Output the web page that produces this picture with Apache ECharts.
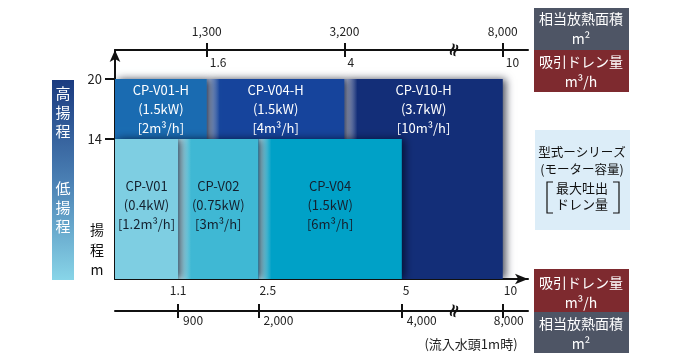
<!DOCTYPE html>
<html><head><meta charset="utf-8">
<script src="https://cdn.jsdelivr.net/npm/echarts@6/dist/echarts.min.js"></script>
<style>html,body{margin:0;padding:0;background:#fff}#c{width:680px;height:360px}</style>
</head><body><div id="c"></div>
<script>
// ---- data ----
const lowModels = ['CP-V01', 'CP-V02', 'CP-V04'];
const lowPower = ['(0.4kW)', '(0.75kW)', '(1.5kW)'];
const lowFlow = ['[1.2m³/h]', '[3m³/h]', '[6m³/h]'];
const lowStart = [0, 1.1, 2.5];
const lowEnd = [1.1, 2.5, 5];
const lowHead = [14, 14, 14];

const highModels = ['CP-V01-H', 'CP-V04-H', 'CP-V10-H'];
const highPower = ['(1.5kW)', '(1.5kW)', '(3.7kW)'];
const highFlow = ['[2m³/h]', '[4m³/h]', '[10m³/h]'];
const highStart = [0, 1.6, 4];
const highEnd = [1.6, 4, 10];
const highHead = [20, 20, 20];

const bottomTicks = [1.1, 2.5, 5, 10];
const bottomFlowLabels = ['1.1', '2.5', '5', '10'];
const bottomAreaLabels = ['900', '2,000', '4,000', '8,000'];
const topTicks = [1.6, 4, 10];
const topFlowLabels = ['1.6', '4', '10'];
const topAreaLabels = ['1,300', '3,200', '8,000'];
const yTicks = [14, 20];

// ---- styling ----
const lowColors = ['#7ecee2', '#3fb8d4', '#00a1c7'];
const highColors = ['#1a6bb1', '#16449c', '#132e78'];
const FONT = '"Noto Sans CJK JP", "Noto Sans", sans-serif';
const BREAK_AT = 5, BREAK_RATIO = 0.352, X_MAX = 7.2, Y_MAX = 22.9;
const tx = v => v <= BREAK_AT ? v : BREAK_AT + (v - BREAK_AT) * BREAK_RATIO;
const lookup = (ticks, labels) => (val) => {
  for (let i = 0; i < ticks.length; i++) if (Math.abs(tx(ticks[i]) - val) < 1e-6) return labels[i];
  return '';
};

const rects = [];
for (let i = highModels.length - 1; i >= 0; i--) rects.push([tx(highStart[i]), tx(highEnd[i]), highHead[i], i, 1]);
for (let i = lowModels.length - 1; i >= 0; i--) rects.push([tx(lowStart[i]), tx(lowEnd[i]), lowHead[i], i, 0]);

const axisBase = {type: 'value', min: 0, max: X_MAX, splitLine: {show: false}};
const lineStyle = {color: '#111', width: 2};
const lbl = {fontSize: 12, color: '#222', fontFamily: FONT};
const firstBottom = bottomTicks.slice(0, 1).map(tx);
const restBottom = bottomTicks.slice(1).map(tx);
const areaMain = bottomTicks.slice(0, bottomTicks.length - 1).map(tx);
const areaLast = bottomTicks.slice(-1).map(tx);

const chart = echarts.init(document.getElementById('c'));
chart.setOption({
  animation: false,
  grid: {left: 115, top: 50, right: 152, bottom: 81},
  xAxis: [
    Object.assign({}, axisBase, {
      position: 'bottom',
      axisLine: {show: true, onZero: false, symbol: ['none', 'arrow'], symbolSize: [8, 13], lineStyle},
      axisTick: {show: false},
      axisLabel: Object.assign({customValues: restBottom, formatter: lookup(bottomTicks, bottomFlowLabels), margin: 5, align: 'left', padding: [0, 0, 0, 1]}, lbl)
    }),
    Object.assign({}, axisBase, {
      position: 'bottom',
      axisLine: {show: false, onZero: false},
      axisTick: {show: false},
      axisLabel: Object.assign({customValues: firstBottom, formatter: lookup(bottomTicks, bottomFlowLabels), margin: 5}, lbl)
    }),
    Object.assign({}, axisBase, {
      position: 'top',
      axisLine: {show: true, onZero: false, lineStyle},
      axisTick: {show: true, customValues: topTicks.map(tx), length: 7, lineStyle},
      axisLabel: Object.assign({customValues: topTicks.map(tx), formatter: lookup(topTicks, topAreaLabels), margin: 13}, lbl)
    }),
    Object.assign({}, axisBase, {
      position: 'top',
      axisLine: {show: false, onZero: false},
      axisTick: {show: true, inside: true, customValues: topTicks.map(tx), length: 7, lineStyle},
      axisLabel: Object.assign({inside: true, customValues: topTicks.map(tx), formatter: lookup(topTicks, topFlowLabels), margin: 6, align: 'left', padding: [0, 0, 0, 3]}, lbl)
    }),
    Object.assign({}, axisBase, {
      position: 'bottom', offset: 32,
      axisLine: {show: true, onZero: false, lineStyle},
      axisTick: {show: true, customValues: bottomTicks.map(tx), length: 7, lineStyle},
      axisLabel: Object.assign({customValues: areaMain, formatter: lookup(bottomTicks, bottomAreaLabels), margin: 3, align: 'left', padding: [0, 0, 0, 5]}, lbl)
    }),
    Object.assign({}, axisBase, {
      position: 'bottom', offset: 32,
      axisLine: {show: false, onZero: false},
      axisTick: {show: true, inside: true, customValues: bottomTicks.map(tx), length: 7, lineStyle},
      axisLabel: Object.assign({customValues: areaLast, formatter: lookup(bottomTicks, bottomAreaLabels), margin: 3, align: 'center', padding: [0, 0, 0, 12]}, lbl)
    })
  ],
  yAxis: {
    type: 'value', min: 0, max: Y_MAX, splitLine: {show: false},
    axisLine: {show: true, onZero: false, symbol: ['none', 'arrow'], symbolSize: [8, 12], lineStyle},
    axisTick: {show: true, customValues: yTicks, length: 10, lineStyle},
    axisLabel: {customValues: yTicks, margin: 13, fontSize: 13, color: '#222', fontFamily: FONT}
  },
  series: [{
    type: 'custom',
    xAxisIndex: 0,
    clip: true,
    data: rects,
    renderItem: function (params, api) {
      const x0 = api.value(0), x1 = api.value(1), h = api.value(2), i = api.value(3), g = api.value(4);
      const p0 = api.coord([x0, 0]);
      const p1 = api.coord([x1, h]);
      const isHigh = g === 1;
      const base = isHigh ? highColors[i] : lowColors[i];
      const w = p1[0] - p0[0];
      let fill = base;
      if (x0 > 0) {
        const edge = echarts.color.lift(base, 0.6);
        fill = new echarts.graphic.LinearGradient(0, 0, 1, 0, [
          {offset: 0, color: edge},
          {offset: Math.min(3 / w, 1), color: edge},
          {offset: Math.min(13 / w, 1), color: base},
          {offset: 1, color: base}
        ]);
      }
      const cy = isHigh ? api.coord([0, (lowHead[0] + h) / 2])[1] : api.coord([0, h / 2])[1] - 4;
      const lines = isHigh ? [highModels[i], highPower[i], highFlow[i]] : [lowModels[i], lowPower[i], lowFlow[i]];
      return {
        type: 'group',
        children: [
          {type: 'rect', shape: {x: p0[0], y: p1[1], width: w, height: p0[1] - p1[1]},
           style: {fill: fill, shadowBlur: 8, shadowColor: 'rgba(0,5,25,0.7)', shadowOffsetX: 3}},
          {type: 'text', x: (p0[0] + p1[0]) / 2, y: cy,
           style: {text: lines.join('\n'), fill: isHigh ? '#ffffff' : '#14202e', font: '13px ' + FONT,
                   align: 'center', verticalAlign: 'middle', lineHeight: 19}}
        ]
      };
    }
  }],
  graphic: [
    // left gradient bar
    {type: 'rect', shape: {x: 52, y: 80, width: 22, height: 200},
     style: {fill: new echarts.graphic.LinearGradient(0, 0, 0, 1, [
       {offset: 0, color: '#1b3b80'}, {offset: 0.5, color: '#4a7fb3'}, {offset: 1, color: '#88d5e8'}])}},
    {type: 'text', x: 63, y: 112, style: {text: '高\n揚\n程', fill: '#fff', font: '15px ' + FONT, align: 'center', verticalAlign: 'middle', lineHeight: 19}},
    {type: 'text', x: 63, y: 207, style: {text: '低\n揚\n程', fill: '#fff', font: '15px ' + FONT, align: 'center', verticalAlign: 'middle', lineHeight: 19}},
    {type: 'text', x: 97, y: 250, style: {text: '揚\n程\nm', fill: '#111', font: '14px ' + FONT, align: 'center', verticalAlign: 'middle', lineHeight: 20}},
    // right top boxes
    {type: 'rect', shape: {x: 534, y: 8, width: 95, height: 42}, style: {fill: '#4e5565'}},
    {type: 'text', x: 581, y: 29, style: {text: '相当放熱面積\nm²', fill: '#fff', font: '14px ' + FONT, align: 'center', verticalAlign: 'middle', lineHeight: 20}},
    {type: 'rect', shape: {x: 534, y: 50, width: 95, height: 42}, style: {fill: '#7e2a2f'}},
    {type: 'text', x: 581, y: 72, style: {text: '吸引ドレン量\nm³/h', fill: '#fff', font: '14px ' + FONT, align: 'center', verticalAlign: 'middle', lineHeight: 20}},
    // right bottom boxes
    {type: 'rect', shape: {x: 534, y: 269, width: 95, height: 43}, style: {fill: '#7e2a2f'}},
    {type: 'text', x: 581, y: 293, style: {text: '吸引ドレン量\nm³/h', fill: '#fff', font: '14px ' + FONT, align: 'center', verticalAlign: 'middle', lineHeight: 20}},
    {type: 'rect', shape: {x: 534, y: 312, width: 95, height: 41}, style: {fill: '#4e5565'}},
    {type: 'text', x: 581, y: 334, style: {text: '相当放熱面積\nm²', fill: '#fff', font: '14px ' + FONT, align: 'center', verticalAlign: 'middle', lineHeight: 20}},
    // legend box
    {type: 'rect', shape: {x: 535, y: 130, width: 95, height: 100}, style: {fill: '#dcedf8'}},
    {type: 'text', x: 582, y: 161, style: {text: '型式ーシリーズ\n(モーター容量)', fill: '#111', font: '12.5px ' + FONT, align: 'center', verticalAlign: 'middle', lineHeight: 17}},
    {type: 'text', x: 582, y: 196, style: {text: '最大吐出\nドレン量', fill: '#111', font: '13px ' + FONT, align: 'center', verticalAlign: 'middle', lineHeight: 16}},
    {type: 'polyline', shape: {points: [[553, 182], [547, 182], [547, 213], [553, 213]]}, style: {stroke: '#111', lineWidth: 1.2, fill: null}},
    {type: 'polyline', shape: {points: [[613, 182], [619, 182], [619, 213], [613, 213]]}, style: {stroke: '#111', lineWidth: 1.2, fill: null}},
    // caption
    {type: 'text', x: 471, y: 344, style: {text: '(流入水頭1m時)', fill: '#222', font: '13px ' + FONT, align: 'center', verticalAlign: 'middle'}},
    // break marks
    {type: 'text', x: 455, y: 50, rotation: 1.25, style: {text: '≈', fill: '#111', font: 'bold 18px "DejaVu Sans"', align: 'center', verticalAlign: 'middle'}},
    {type: 'text', x: 455, y: 311, rotation: 1.25, style: {text: '≈', fill: '#111', font: 'bold 18px "DejaVu Sans"', align: 'center', verticalAlign: 'middle'}}
  ]
});
</script>
</body></html>
